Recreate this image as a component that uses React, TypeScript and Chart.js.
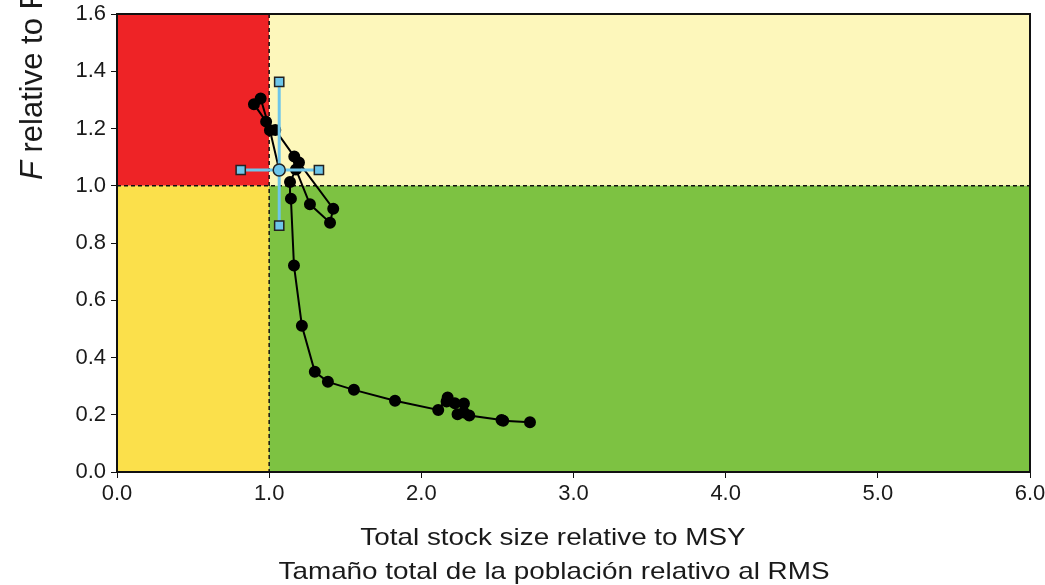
import React, { useEffect, useRef } from "react";
import { Chart, registerables } from "chart.js";

Chart.register(...registerables);

// Stock trajectory: biomass relative to MSY level, F relative to F_MSY
const bRatio = [2.714, 2.538, 2.527, 2.315, 2.28, 2.238, 2.28, 2.22, 2.166, 2.173, 2.111, 1.827, 1.557, 1.386, 1.3, 1.215, 1.163, 1.143, 1.137, 1.176, 1.268, 1.4, 1.421, 1.196, 1.165, 1.04, 0.98, 0.9, 0.944, 1.005, 1.066];
const fRatio = [0.174, 0.179, 0.182, 0.197, 0.208, 0.202, 0.239, 0.24, 0.246, 0.26, 0.217, 0.249, 0.287, 0.315, 0.35, 0.511, 0.721, 0.955, 1.013, 1.057, 0.935, 0.871, 0.92, 1.081, 1.102, 1.195, 1.224, 1.285, 1.305, 1.194, 1.055];

// Current status with confidence intervals
const currentB = 1.066;
const currentF = 1.055;
const bInterval = [0.813, 1.327];
const fInterval = [0.861, 1.363];

const xTickValues = [0, 1, 2, 3, 4, 5, 6];
const yTickValues = [0, 0.2, 0.4, 0.6, 0.8, 1.0, 1.2, 1.4, 1.6];

const xTitleLines = ["Total stock size relative to MSY", "Tamaño total de la población relativo al RMS"];

const FONT = "'Liberation Sans', Arial, sans-serif";

export default function App() {
  const ref = useRef<HTMLCanvasElement | null>(null);

  useEffect(() => {
    if (!ref.current) return;
    const quadrants = {
      id: "quadrants",
      beforeDatasetsDraw(chart: any) {
        const { ctx, chartArea: a, scales } = chart;
        const x1 = scales.x.getPixelForValue(1);
        const y1 = scales.y.getPixelForValue(1);
        ctx.save();
        ctx.fillStyle = "#ee2326";
        ctx.fillRect(a.left, a.top, x1 - a.left, y1 - a.top);
        ctx.fillStyle = "#fdf7bb";
        ctx.fillRect(x1, a.top, a.right - x1, y1 - a.top);
        ctx.fillStyle = "#fbe04b";
        ctx.fillRect(a.left, y1, x1 - a.left, a.bottom - y1);
        ctx.fillStyle = "#7dc242";
        ctx.fillRect(x1, y1, a.right - x1, a.bottom - y1);
        ctx.strokeStyle = "#111";
        ctx.lineWidth = 1.5;
        ctx.setLineDash([4, 3]);
        ctx.beginPath();
        ctx.moveTo(x1, a.top);
        ctx.lineTo(x1, a.bottom);
        ctx.moveTo(a.left, y1);
        ctx.lineTo(a.right, y1);
        ctx.stroke();
        ctx.restore();
      },
      afterDraw(chart: any) {
        const { ctx, chartArea: a } = chart;
        ctx.save();
        ctx.strokeStyle = "#111";
        ctx.lineWidth = 2;
        ctx.strokeRect(a.left, a.top, a.right - a.left, a.bottom - a.top);
        // x titles
        ctx.fillStyle = "#1a1a1a";
        ctx.font = `24px ${FONT}`;
        ctx.textAlign = "center";
        ctx.textBaseline = "alphabetic";
        ctx.save();
        ctx.translate(553, 545);
        ctx.scale(1.16, 1);
        ctx.fillText(xTitleLines[0], 0, 0);
        ctx.restore();
        ctx.save();
        ctx.translate(554, 579);
        ctx.scale(1.16, 1);
        ctx.fillText(xTitleLines[1], 0, 0);
        ctx.restore();
        // y title (rotated)
        ctx.translate(42, 180);
        ctx.rotate(-Math.PI / 2);
        ctx.textAlign = "left";
        ctx.textBaseline = "alphabetic";
        ctx.font = `italic 31px ${FONT}`;
        ctx.fillText("F", 0, 0);
        const w = ctx.measureText("F").width;
        ctx.font = `31px ${FONT}`;
        ctx.fillText(" relative to F", w, 0);
        ctx.restore();
      },
    };

    const blue = "#6ec6ea";
    const chart = new Chart(ref.current, {
      type: "scatter",
      data: {
        datasets: [
          {
            data: [{ x: currentB, y: currentF }],
            pointRadius: 6,
            pointBackgroundColor: blue,
            pointBorderColor: "#222",
            pointBorderWidth: 1.5,
            showLine: false,
          },
          {
            data: [
              { x: bInterval[0], y: currentF },
              { x: bInterval[1], y: currentF },
            ],
            showLine: true,
            borderColor: blue,
            borderWidth: 3,
            pointStyle: "rect",
            pointRadius: 6.5,
            pointBackgroundColor: blue,
            pointBorderColor: "#222",
            pointBorderWidth: 1.5,
          },
          {
            data: [
              { x: currentB, y: fInterval[0] },
              { x: currentB, y: fInterval[1] },
            ],
            showLine: true,
            borderColor: blue,
            borderWidth: 3,
            pointStyle: "rect",
            pointRadius: 6.5,
            pointBackgroundColor: blue,
            pointBorderColor: "#222",
            pointBorderWidth: 1.5,
          },
          {
            data: bRatio.map((b, i) => ({ x: b, y: fRatio[i] })),
            showLine: true,
            borderColor: "#000",
            borderWidth: 2,
            pointRadius: 5,
            pointBackgroundColor: "#000",
            pointBorderColor: "#000",
            tension: 0,
          },
        ],
      },
      options: {
        animation: false,
        responsive: true,
        maintainAspectRatio: false,
        layout: { padding: { top: 14, right: 15, left: 0, bottom: 0 } },
        plugins: { legend: { display: false }, tooltip: { enabled: false } },
        scales: {
          x: {
            type: "linear",
            min: 0,
            max: 6,
            afterFit(scale: any) {
              scale.height = 113;
              scale.paddingLeft = 0;
              scale.paddingRight = 0;
            },
            afterBuildTicks(scale: any) {
              scale.ticks = xTickValues.map((v) => ({ value: v }));
            },
            ticks: {
              color: "#1a1a1a",
              font: { family: FONT, size: 22 },
              padding: 3,
              callback: (v: any) => Number(v).toFixed(1),
              maxRotation: 0,
            },
            grid: { drawOnChartArea: false, drawTicks: true, tickLength: 6, color: "#111" },
            border: { display: true, color: "#111", width: 2 },
          },
          y: {
            type: "linear",
            min: 0,
            max: 1.6,
            afterFit(scale: any) {
              scale.width = 117;
              scale.paddingTop = 0;
              scale.paddingBottom = 0;
            },
            afterBuildTicks(scale: any) {
              scale.ticks = yTickValues.map((v) => ({ value: v }));
            },
            ticks: {
              color: "#1a1a1a",
              font: { family: FONT, size: 22 },
              padding: 5,
              callback: (v: any) => Number(v).toFixed(1),
            },
            grid: { drawOnChartArea: false, drawTicks: true, tickLength: 6, color: "#111" },
            border: { display: true, color: "#111", width: 2 },
          },
        },
      },
      plugins: [quadrants],
    });
    return () => chart.destroy();
  }, []);

  return (
    <div style={{ position: "fixed", left: 0, top: 0, width: 1045, height: 585, background: "#fff" }}>
      <canvas ref={ref} />
    </div>
  );
}
